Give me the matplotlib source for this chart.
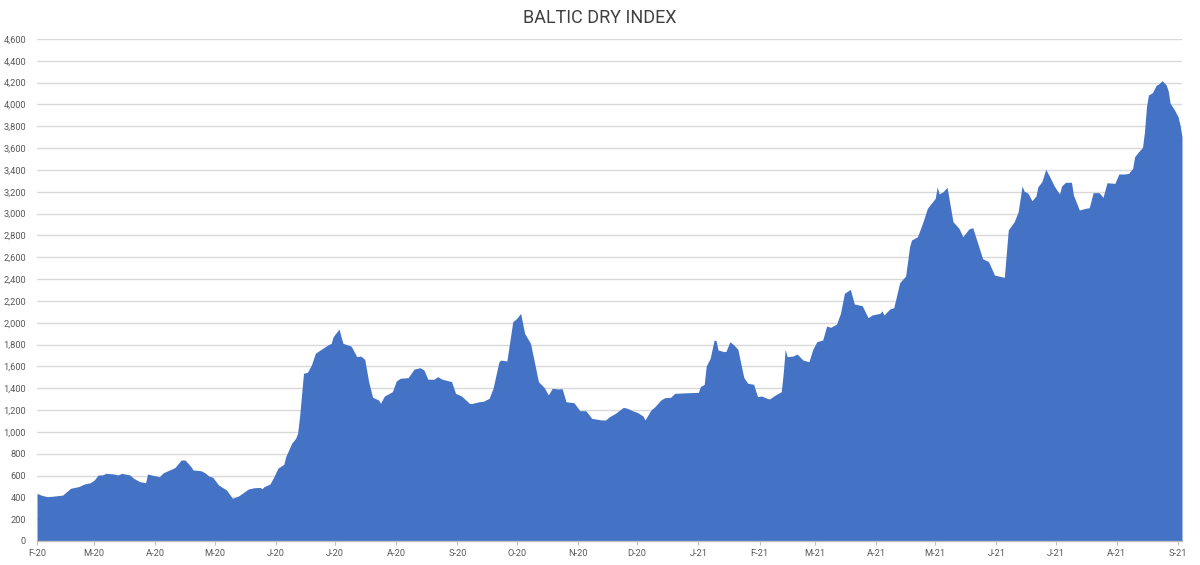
import matplotlib
matplotlib.use("Agg")
import matplotlib.pyplot as plt
import pandas as pd

dates = [
    "2020-02-01", "2020-02-03", "2020-02-06", "2020-02-09", "2020-02-14", "2020-02-18", "2020-02-22",
    "2020-02-25", "2020-02-28", "2020-03-01", "2020-03-03", "2020-03-05", "2020-03-07", "2020-03-11",
    "2020-03-13", "2020-03-15", "2020-03-19", "2020-03-21", "2020-03-24", "2020-03-27", "2020-03-28",
    "2020-03-30", "2020-04-03", "2020-04-05", "2020-04-09", "2020-04-11", "2020-04-14", "2020-04-16",
    "2020-04-19", "2020-04-20", "2020-04-24", "2020-04-26", "2020-04-28", "2020-04-30", "2020-05-03",
    "2020-05-07", "2020-05-10", "2020-05-13", "2020-05-15", "2020-05-18", "2020-05-21", "2020-05-24",
    "2020-05-25", "2020-05-26", "2020-05-29", "2020-05-31", "2020-06-02", "2020-06-05", "2020-06-06",
    "2020-06-09", "2020-06-11", "2020-06-12", "2020-06-13", "2020-06-15", "2020-06-17", "2020-06-19",
    "2020-06-21", "2020-06-24", "2020-06-27", "2020-06-29", "2020-06-30", "2020-07-02", "2020-07-03",
    "2020-07-04", "2020-07-05", "2020-07-09", "2020-07-10", "2020-07-12", "2020-07-14", "2020-07-16",
    "2020-07-18", "2020-07-20", "2020-07-23", "2020-07-24", "2020-07-26", "2020-07-30", "2020-08-01",
    "2020-08-03", "2020-08-07", "2020-08-10", "2020-08-13", "2020-08-15", "2020-08-17", "2020-08-20",
    "2020-08-22", "2020-08-24", "2020-08-29", "2020-08-31", "2020-09-03", "2020-09-07", "2020-09-08",
    "2020-09-12", "2020-09-14", "2020-09-17", "2020-09-19", "2020-09-22", "2020-09-23", "2020-09-26",
    "2020-09-29", "2020-10-01", "2020-10-03", "2020-10-05", "2020-10-08", "2020-10-12", "2020-10-15",
    "2020-10-17", "2020-10-19", "2020-10-22", "2020-10-24", "2020-10-26", "2020-10-30", "2020-11-02",
    "2020-11-05", "2020-11-08", "2020-11-13", "2020-11-15", "2020-11-17", "2020-11-20", "2020-11-24",
    "2020-11-26", "2020-11-29", "2020-12-01", "2020-12-04", "2020-12-05", "2020-12-08", "2020-12-10",
    "2020-12-13", "2020-12-15", "2020-12-18", "2020-12-20", "2020-12-27", "2021-01-01", "2021-01-02",
    "2021-01-04", "2021-01-05", "2021-01-07", "2021-01-09", "2021-01-10", "2021-01-11", "2021-01-14",
    "2021-01-15", "2021-01-17", "2021-01-19", "2021-01-21", "2021-01-24", "2021-01-26", "2021-01-29",
    "2021-01-31", "2021-02-02", "2021-02-04", "2021-02-06", "2021-02-09", "2021-02-12", "2021-02-13",
    "2021-02-14", "2021-02-15", "2021-02-18", "2021-02-20", "2021-02-23", "2021-02-26", "2021-02-28",
    "2021-03-02", "2021-03-05", "2021-03-07", "2021-03-09", "2021-03-12", "2021-03-14", "2021-03-16",
    "2021-03-19", "2021-03-21", "2021-03-25", "2021-03-28", "2021-03-30", "2021-04-03", "2021-04-04",
    "2021-04-05", "2021-04-08", "2021-04-10", "2021-04-13", "2021-04-16", "2021-04-18", "2021-04-19",
    "2021-04-22", "2021-04-25", "2021-04-27", "2021-05-01", "2021-05-02", "2021-05-03", "2021-05-05",
    "2021-05-07", "2021-05-10", "2021-05-13", "2021-05-15", "2021-05-18", "2021-05-20", "2021-05-25",
    "2021-05-28", "2021-05-31", "2021-06-05", "2021-06-07", "2021-06-10", "2021-06-12", "2021-06-14",
    "2021-06-15", "2021-06-17", "2021-06-19", "2021-06-21", "2021-06-22", "2021-06-24", "2021-06-26",
    "2021-06-28", "2021-06-30", "2021-07-01", "2021-07-03", "2021-07-04", "2021-07-06", "2021-07-09",
    "2021-07-10", "2021-07-13", "2021-07-16", "2021-07-18", "2021-07-20", "2021-07-23", "2021-07-25",
    "2021-07-27", "2021-07-31", "2021-08-02", "2021-08-05", "2021-08-07", "2021-08-09", "2021-08-10",
    "2021-08-12", "2021-08-14", "2021-08-15", "2021-08-16", "2021-08-17", "2021-08-19", "2021-08-21",
    "2021-08-22", "2021-08-24", "2021-08-26", "2021-08-27", "2021-08-28", "2021-08-30", "2021-09-01",
    "2021-09-02", "2021-09-03",
]

bdi = [
    437, 421, 406, 410, 421, 483, 498,
    522, 534, 559, 605, 605, 620, 614,
    605, 620, 605, 574, 544, 534, 614,
    605, 589, 626, 657, 675, 742, 742,
    681, 651, 644, 626, 596, 584, 513,
    467, 391, 412, 437, 476, 488, 491,
    479, 498, 522, 589, 666, 703, 773,
    895, 941, 987, 1139, 1537, 1546, 1613,
    1720, 1757, 1793, 1811, 1872, 1918, 1943,
    1872, 1811, 1787, 1757, 1689, 1695, 1665,
    1460, 1317, 1292, 1262, 1329, 1368, 1466,
    1491, 1497, 1575, 1588, 1567, 1482, 1482,
    1506, 1484, 1460, 1353, 1329, 1262, 1259,
    1276, 1280, 1307, 1399, 1643, 1658, 1649,
    2009, 2040, 2086, 1903, 1811, 1460, 1405,
    1338, 1399, 1393, 1396, 1276, 1267, 1194,
    1194, 1124, 1109, 1109, 1139, 1170, 1225,
    1216, 1191, 1179, 1145, 1109, 1200, 1231,
    1292, 1313, 1317, 1353, 1359, 1362, 1414,
    1436, 1604, 1674, 1842, 1835, 1750, 1735,
    1738, 1826, 1796, 1757, 1500, 1445, 1436,
    1322, 1329, 1313, 1301, 1338, 1368, 1537,
    1757, 1689, 1695, 1714, 1658, 1643, 1757,
    1826, 1842, 1970, 1958, 1988, 2086, 2270,
    2306, 2172, 2156, 2046, 2071, 2086, 2110,
    2071, 2126, 2138, 2367, 2428, 2697, 2758,
    2788, 2935, 3048, 3140, 3246, 3180, 3201,
    3241, 2926, 2865, 2788, 2859, 2871, 2587,
    2560, 2437, 2416, 2850, 2926, 3017, 3253,
    3207, 3186, 3118, 3161, 3246, 3292, 3406,
    3338, 3262, 3232, 3180, 3253, 3287, 3287,
    3170, 3033, 3048, 3054, 3192, 3192, 3149,
    3283, 3277, 3363, 3363, 3369, 3415, 3521,
    3567, 3607, 3750, 3979, 4087, 4108, 4178,
    4185, 4218, 4178, 4126, 4011, 3956, 3888,
    3812, 3705,
]

tick_dates = [
    "2020-02-01", "2020-03-01", "2020-04-01", "2020-05-01", "2020-06-01", "2020-07-01",
    "2020-08-01", "2020-09-01", "2020-10-01", "2020-11-01", "2020-12-01", "2021-01-01",
    "2021-02-01", "2021-03-01", "2021-04-01", "2021-05-01", "2021-06-01", "2021-07-01",
    "2021-08-01", "2021-09-01",
]
tick_labels = [
    "F-20", "M-20", "A-20", "M-20", "J-20", "J-20", "A-20", "S-20", "O-20", "N-20",
    "D-20", "J-21", "F-21", "M-21", "A-21", "M-21", "J-21", "J-21", "A-21", "S-21",
]
y_ticks = list(range(0, 4601, 200))

title = "BALTIC DRY INDEX"

plt.rcParams['font.family'] = ['Roboto', 'DejaVu Sans']

fig = plt.figure(figsize=(12, 5.65), dpi=100)
ax = fig.add_axes([37 / 1200, 24 / 565, 1145 / 1200, 502 / 565])

x = pd.to_datetime(dates)
ax.fill_between(x, bdi, 0, color="#4472C4", linewidth=0, zorder=2)

ax.set_xlim(x[0], x[-1])
ax.set_ylim(0, 4600)

ax.set_yticks(y_ticks)
ax.set_yticklabels([f"{v:,}" for v in y_ticks])
ax.set_xticks(pd.to_datetime(tick_dates))
ax.set_xticklabels(tick_labels)

ax.yaxis.grid(True, color="#D9D9D9", linewidth=1.0, zorder=0)
ax.set_axisbelow(True)
for s in ["top", "right", "left"]:
    ax.spines[s].set_visible(False)
ax.spines["bottom"].set_color("#BFBFBF")
ax.spines["bottom"].set_linewidth(1.0)

ax.tick_params(axis="y", length=0, pad=8, labelsize=6.7, labelcolor="#595959")
ax.tick_params(axis="x", length=3, width=0.8, color="#BFBFBF", pad=3,
               labelsize=6.7, labelcolor="#595959")

fig.text(0.5, 1 - 18 / 565, title, ha="center", va="center",
         fontsize=13, color="#404040")

fig.savefig("out.png", dpi=100)
